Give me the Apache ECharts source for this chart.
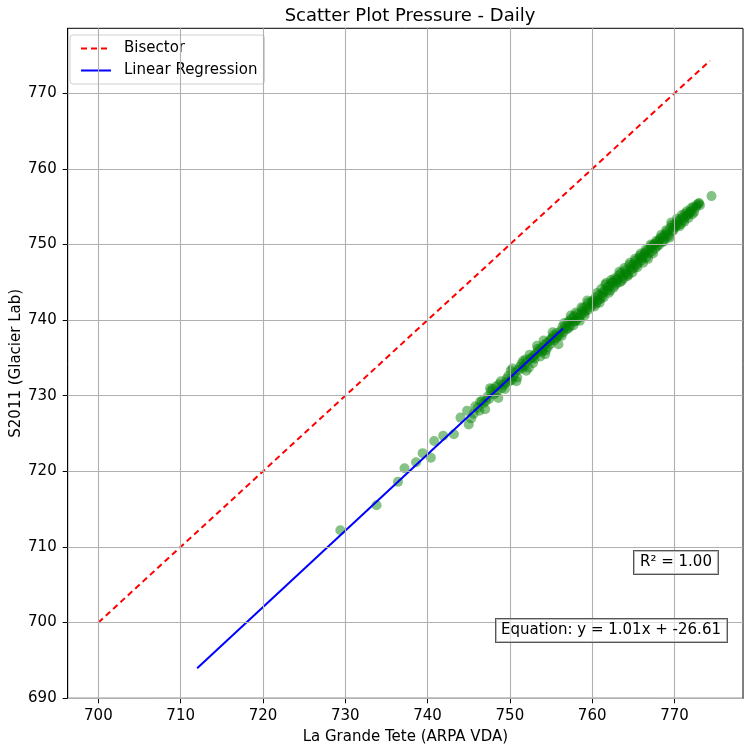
<!DOCTYPE html>
<html>
<head>
<meta charset="utf-8">
<script src="https://cdn.jsdelivr.net/npm/echarts@6/dist/echarts.min.js"></script>
<style>
html,body{margin:0;padding:0;background:#fff;}
#chart{width:744px;height:749px;}
</style>
</head>
<body>
<div id="chart"></div>
<script>
// ---- data ----
const xTicks = [700, 710, 720, 730, 740, 750, 760, 770];
const yTicks = [690, 700, 710, 720, 730, 740, 750, 760, 770];
const xRange = [696.27, 778.33];
const yRange = [689.97, 778.6];

const scatterPts = [
  [729.4,712.2],[733.8,715.5],[736.4,718.6],[737.2,720.4],[738.6,721.2],[739.4,722.4],
  [740.4,721.8],[740.8,724.0],[741.9,724.7],[743.2,724.9],[744.0,727.1],[744.8,728.0],
  [745.0,726.2],[745.6,727.6],[746.1,728.4],[746.6,729.3],[747.0,728.2],[747.3,729.9],
  [747.7,730.6],[748.1,730.2],[748.6,729.7],[748.7,731.5],[749.0,731.0],[749.5,731.7],
  [749.8,732.6],[750.1,733.3],[750.4,732.5],[750.9,732.4],[751.2,733.8],[751.5,733.6],
  [751.9,734.8],[752.3,733.7],[752.5,734.9],[752.9,735.3],[753.2,735.6],[753.5,735.9],
  [753.8,736.3],[754.0,736.0],[754.3,735.5],[754.5,737.0],[754.8,737.2],[755.1,737.6],
  [755.4,737.3],[755.7,738.3],[755.9,736.8],[756.2,738.6],[756.5,738.4],[756.7,739.0],
  [757.0,739.6],[757.3,739.2],[757.6,739.8],[757.9,739.8],[758.2,740.8],[758.4,740.3],
  [758.8,741.2],[759.0,740.9],[759.3,741.8],[759.6,741.4],[760.0,742.0],[760.2,742.6],
  [760.5,742.2],[760.8,743.3],[761.0,742.8],[761.3,743.6],[761.6,744.7],[761.8,743.9],
  [762.1,744.5],[762.4,745.0],[762.6,744.3],[762.9,745.3],[763.2,745.9],[763.4,745.0],
  [763.7,745.8],[764.0,746.6],[764.2,746.1],[764.5,747.3],[764.8,746.7],[765.0,747.4],
  [765.3,747.9],[765.6,747.6],[765.8,748.5],[766.1,748.2],[766.4,748.9],[766.7,749.2],
  [766.9,748.8],[767.2,749.8],[767.5,750.0],[767.7,749.5],[768.0,750.4],[768.3,750.9],
  [768.5,750.3],[768.8,751.3],[769.1,751.7],[769.3,751.1],[769.7,752.6],[769.9,752.0],
  [770.2,752.8],[770.5,753.1],[770.8,752.7],[771.0,753.6],[771.3,754.1],[771.6,753.9],
  [771.9,754.3],[772.2,754.0],[772.7,755.2],[773.0,755.5],[774.5,756.4],
  [745.3,727.0],[745.8,728.6],[746.3,728.0],[746.8,729.0],[747.5,729.6],[747.9,730.9],
  [748.3,731.2],[749.2,731.4],[749.6,732.2],[750.2,732.0],[750.6,733.0],[751.0,733.4],
  [751.4,734.2],[751.7,733.9],[752.1,734.5],[752.7,735.0],[753.0,734.9],[753.4,736.2],
  [753.9,735.8],[754.2,736.7],[754.6,736.4],[755.0,737.5],[755.3,738.0],[755.6,737.6],
  [756.0,738.0],[756.4,739.1],[756.9,738.8],[757.2,739.9],[757.5,740.2],[757.8,740.5],
  [758.1,740.0],[758.6,740.7],[758.9,741.6],[759.2,741.2],[759.5,742.3],[759.8,741.7],
  [760.1,742.4],[760.4,743.0],[760.7,742.6],[761.2,743.2],[761.5,743.9],[761.9,744.4],
  [762.2,743.9],[762.5,744.9],[762.8,744.6],[763.1,745.4],[763.5,746.2],[763.8,745.5],
  [764.1,746.3],[764.4,746.0],[764.7,747.0],[765.1,746.9],[765.4,747.3],[765.7,748.2],
  [766.0,747.9],[766.3,748.6],[766.6,748.3],[767.0,749.4],[767.3,749.1],[767.6,750.1],
  [767.9,749.8],[768.2,750.6],[768.6,751.0],[768.9,750.8],[769.2,751.4],[769.5,752.2],
  [769.8,751.8],[770.1,752.3],[770.4,752.6],[770.7,753.3],[771.1,753.2],[771.4,753.7],
  [771.8,754.1],[772.1,754.5],[772.4,754.3],
  [750.3,733.6],[750.8,731.9],[751.6,734.6],[752.0,733.3],[752.4,735.4],[752.8,734.3],
  [753.3,736.6],[753.7,735.2],[754.1,737.3],[754.4,736.0],[754.9,736.8],[755.2,738.4],
  [755.8,737.9],[756.3,737.9],[756.6,739.6],[757.1,738.9],[757.4,740.6],[757.7,739.3],
  [758.0,741.0],[758.5,739.9],[758.7,741.7],[759.1,740.6],[759.4,742.6],[759.9,742.5],
  [760.3,741.8],[760.6,743.6],[760.9,742.3],[761.1,744.1],[761.4,743.0],[761.7,744.9],
  [762.0,743.6],[762.3,745.3],[762.7,745.5],[763.0,744.9],[763.3,746.4],[763.6,745.2],
  [763.9,746.9],[764.3,745.8],[764.6,747.6],[764.9,746.3],[765.2,748.1],[765.5,747.0],
  [765.9,748.8],[766.2,747.6],[766.5,749.3],[766.8,748.1],[767.1,750.0],[767.4,748.8],
  [767.8,750.5],[768.1,749.9],[768.4,751.3],[768.7,750.4],[769.0,751.9],[769.4,750.9],
  [769.6,752.9],[770.0,752.5],[770.3,753.4],[770.6,752.4],[770.9,753.9],[771.2,753.0],
  [771.5,754.4],[771.7,753.5],[772.0,754.8],[772.3,755.0],[772.6,754.9],[772.9,755.4],
  [773.1,755.2],[746.4,729.2],[747.1,729.3],[747.6,731.0],[748.4,730.5],[748.9,731.9],
  [749.4,730.9],[749.9,731.9]
];
const bisectorPts = [[700, 700], [774.3, 774.3]];
const regressionPts = [[712, 693.95], [756.46, 738.88]];

const titleText = 'Scatter Plot Pressure - Daily';
const xName = 'La Grande Tete (ARPA VDA)';
const yName = 'S2011 (Glacier Lab)';
const r2Text = 'R\u00b2 = 1.00';
const eqText = 'Equation: y = 1.01x + -26.61';

// ---- chart ----
const FONT = 'DejaVu Sans';
const FS = 15;
const chart = echarts.init(document.getElementById('chart'), null, {renderer: 'canvas'});
const gridLines = xTicks.map(v => ({xAxis: v})).concat(yTicks.map(v => ({yAxis: v})));

const option = {
  animation: false,
  backgroundColor: '#ffffff',
  title: {
    text: titleText, left: 405, top: 2, textAlign: 'center',
    textStyle: {fontFamily: FONT, fontSize: 18, fontWeight: 'normal', color: '#000'}
  },
  grid: {
    left: 67.7, right: 1, top: 28.3, bottom: 50.7,
    containLabel: false, outerBoundsMode: 'none',
    show: true, borderColor: '#000', borderWidth: 1, backgroundColor: 'transparent'
  },
  legend: {
    data: ['Bisector', 'Linear Regression'],
    orient: 'vertical', left: 70, top: 35,
    itemWidth: 30, itemHeight: 14, itemGap: 7,
    padding: [6, 7, 6, 10],
    itemStyle: {opacity: 0},
    backgroundColor: 'rgba(255,255,255,0.8)', borderColor: '#d0d0d0', borderWidth: 1, borderRadius: 3,
    textStyle: {fontFamily: FONT, fontSize: FS, color: '#000', padding: [0, 0, 0, 8]}
  },
  xAxis: {
    type: 'value', min: xRange[0], max: xRange[1], interval: 10,
    name: xName, nameLocation: 'middle', nameGap: 31, nameMoveOverlap: false,
    nameTextStyle: {fontFamily: FONT, fontSize: FS, color: '#000'},
    axisLine: {show: true, onZero: false, lineStyle: {color: '#000', width: 1}},
    axisTick: {show: true, length: 5, customValues: xTicks, lineStyle: {color: '#000'}},
    axisLabel: {customValues: xTicks, fontFamily: FONT, fontSize: FS, color: '#000', margin: 10},
    splitLine: {show: false}
  },
  yAxis: {
    type: 'value', min: yRange[0], max: yRange[1], interval: 10,
    name: yName, nameLocation: 'middle', nameGap: 44, nameRotate: 90, nameMoveOverlap: false,
    nameTextStyle: {fontFamily: FONT, fontSize: FS, color: '#000'},
    axisLine: {show: true, onZero: false, lineStyle: {color: '#000', width: 1}},
    axisTick: {show: true, length: 5, customValues: yTicks, lineStyle: {color: '#000'}},
    axisLabel: {customValues: yTicks, fontFamily: FONT, fontSize: FS, color: '#000', margin: 11},
    splitLine: {show: false}
  },
  series: [
    {
      name: 'grid', type: 'line', data: [[700, 700]], showSymbol: false, symbol: 'none',
      lineStyle: {width: 0}, silent: true, z: 0,
      markLine: {
        silent: true, symbol: ['none', 'none'], label: {show: false},
        lineStyle: {color: '#b0b0b0', width: 1.1, type: 'solid'},
        emphasis: {disabled: true},
        data: gridLines
      }
    },
    {
      name: 'Scatter', type: 'scatter', data: scatterPts, symbol: 'circle', symbolSize: 10,
      itemStyle: {color: 'rgba(0,128,0,0.6)'}, z: 2
    },
    {
      name: 'Bisector', type: 'line', data: bisectorPts, symbol: 'none', showSymbol: false,
      lineStyle: {color: '#ff0000', width: 2, type: [6, 4]}, itemStyle: {color: '#ff0000'}, z: 3
    },
    {
      name: 'Linear Regression', type: 'line', data: regressionPts, symbol: 'none', showSymbol: false,
      lineStyle: {color: '#0000ff', width: 2}, itemStyle: {color: '#0000ff'}, z: 4
    }
  ],
  graphic: [
    {
      type: 'text', left: 633, top: 550, z: 10,
      style: {
        text: r2Text, fontFamily: FONT, fontSize: FS, fill: '#000',
        backgroundColor: 'rgba(255,255,255,0.6)', borderColor: '#555', borderWidth: 1,
        padding: [4, 6, 4, 6]
      }
    },
    {
      type: 'text', left: 495, top: 618, z: 10,
      style: {
        text: eqText, fontFamily: FONT, fontSize: FS, fill: '#000',
        backgroundColor: 'rgba(255,255,255,0.6)', borderColor: '#555', borderWidth: 1,
        padding: [4, 6, 4, 5]
      }
    }
  ]
};
chart.setOption(option);
</script>
</body>
</html>
